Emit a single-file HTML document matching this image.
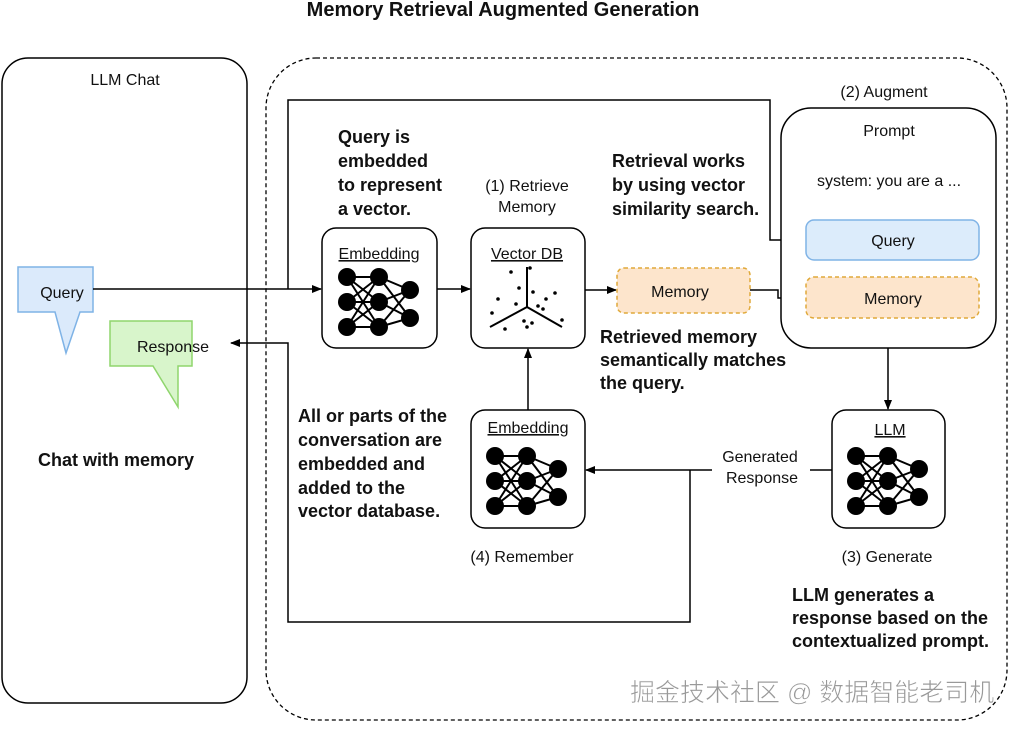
<!DOCTYPE html>
<html><head><meta charset="utf-8"><style>
html,body{margin:0;padding:0;background:#fff;}
svg{display:block;}
text{font-family:"Liberation Sans",sans-serif;fill:#111;}
.b{font-weight:bold;font-size:18px;}
.n{font-size:16px;}
</style></head><body>
<svg width="1012" height="729" viewBox="0 0 1012 729" xmlns="http://www.w3.org/2000/svg">
<defs>
<marker id="a" markerWidth="10" markerHeight="8" refX="9" refY="4" orient="auto" markerUnits="userSpaceOnUse"><path d="M0,0 L10,4 L0,8 Z" fill="#000"/></marker>
<g id="nn">
<g stroke="#000" stroke-width="2">
<line x1="0" y1="0" x2="32" y2="0"/><line x1="0" y1="0" x2="32" y2="25"/><line x1="0" y1="0" x2="32" y2="50"/>
<line x1="0" y1="25" x2="32" y2="0"/><line x1="0" y1="25" x2="32" y2="25"/><line x1="0" y1="25" x2="32" y2="50"/>
<line x1="0" y1="50" x2="32" y2="0"/><line x1="0" y1="50" x2="32" y2="25"/><line x1="0" y1="50" x2="32" y2="50"/>
<line x1="32" y1="0" x2="63" y2="13"/><line x1="32" y1="0" x2="63" y2="41"/>
<line x1="32" y1="25" x2="63" y2="13"/><line x1="32" y1="25" x2="63" y2="41"/>
<line x1="32" y1="50" x2="63" y2="13"/><line x1="32" y1="50" x2="63" y2="41"/>
</g>
<g fill="#000"><circle cx="0" cy="0" r="9"/><circle cx="0" cy="25" r="9"/><circle cx="0" cy="50" r="9"/>
<circle cx="32" cy="0" r="9"/><circle cx="32" cy="25" r="9"/><circle cx="32" cy="50" r="9"/>
<circle cx="63" cy="13" r="9"/><circle cx="63" cy="41" r="9"/></g>
</g>
</defs>

<text x="503" y="16" text-anchor="middle" class="b" style="font-size:20px">Memory Retrieval Augmented Generation</text>

<rect x="2" y="58" width="245" height="645" rx="26" fill="none" stroke="#000" stroke-width="1.5"/>
<text x="125" y="85" text-anchor="middle" class="n">LLM Chat</text>
<rect x="266" y="58" width="741" height="662" rx="50" fill="none" stroke="#000" stroke-width="1.3" stroke-dasharray="4,3"/>

<path d="M18,267 H93 V312 H80 L66,353 L55,312 H18 Z" fill="#dbeafb" stroke="#7fb3e6" stroke-width="1.5"/>
<text x="62" y="298" text-anchor="middle" class="n">Query</text>
<path d="M110,321 H192 V366 H178 L178,407 L153,366 H110 Z" fill="#d8f5cb" stroke="#8fd56d" stroke-width="1.5"/>
<text x="173" y="352" text-anchor="middle" class="n">Response</text>
<text x="38" y="466" class="b">Chat with memory</text>

<g fill="none" stroke="#000" stroke-width="1.5">
<path d="M93,289 H321" marker-end="url(#a)"/>
<path d="M288,289 V100 H770 V240 H805" marker-end="url(#a)"/>
<path d="M437,289 H470" marker-end="url(#a)"/>
<path d="M585,290 H616" marker-end="url(#a)"/>
<path d="M750,290 H778 V298 H805" marker-end="url(#a)"/>
<path d="M888,348 V409" marker-end="url(#a)"/>
<path d="M528,410 V349" marker-end="url(#a)"/>
<path d="M832,470 H586" marker-end="url(#a)"/>
<path d="M690,470 V622 H288 V343 H231" marker-end="url(#a)"/>
</g>
<rect x="712" y="446" width="98" height="44" fill="#fff"/>
<text x="760" y="462" text-anchor="middle" class="n">Generated</text>
<text x="762" y="483" text-anchor="middle" class="n">Response</text>

<rect x="322" y="228" width="115" height="120" rx="14" fill="#fff" stroke="#000" stroke-width="1.5"/>
<text x="379" y="259" text-anchor="middle" class="n" text-decoration="underline">Embedding</text>
<use href="#nn" x="347" y="277"/>

<rect x="471" y="228" width="114" height="120" rx="14" fill="#fff" stroke="#000" stroke-width="1.5"/>
<text x="527" y="259" text-anchor="middle" class="n" text-decoration="underline">Vector DB</text>
<g stroke="#000" stroke-width="2"><line x1="527" y1="307" x2="527" y2="267"/><line x1="527" y1="307" x2="490" y2="327"/><line x1="527" y1="307" x2="562" y2="327"/></g>
<g fill="#000">
<circle cx="511" cy="272" r="1.8"/><circle cx="530" cy="268" r="1.8"/><circle cx="519" cy="288" r="1.8"/><circle cx="533" cy="292" r="1.8"/><circle cx="555" cy="293" r="1.8"/><circle cx="546" cy="299" r="1.8"/><circle cx="498" cy="299" r="1.8"/><circle cx="516" cy="304" r="1.8"/><circle cx="538" cy="306" r="1.8"/><circle cx="543" cy="309" r="1.8"/><circle cx="492" cy="313" r="1.8"/><circle cx="562" cy="320" r="1.8"/><circle cx="524" cy="321" r="1.8"/><circle cx="532" cy="323" r="1.8"/><circle cx="527" cy="327" r="1.8"/><circle cx="505" cy="329" r="1.8"/>
</g>
<text x="527" y="191" text-anchor="middle" class="n">(1) Retrieve</text>
<text x="527" y="212" text-anchor="middle" class="n">Memory</text>

<rect x="617" y="268" width="133" height="45" rx="7" fill="#fde5cc" stroke="#e0a93a" stroke-width="1.5" stroke-dasharray="4,3"/>
<text x="680" y="297" text-anchor="middle" class="n">Memory</text>

<text x="884" y="97" text-anchor="middle" class="n">(2) Augment</text>
<rect x="781" y="108" width="215" height="240" rx="30" fill="#fff" stroke="#000" stroke-width="1.5"/>
<text x="889" y="136" text-anchor="middle" class="n">Prompt</text>
<text x="889" y="186" text-anchor="middle" class="n">system: you are a ...</text>
<rect x="806" y="220" width="173" height="40" rx="8" fill="#dcecfb" stroke="#7fb3e6" stroke-width="1.5"/>
<text x="893" y="246" text-anchor="middle" class="n">Query</text>
<rect x="806" y="277" width="173" height="41" rx="8" fill="#fde5cc" stroke="#e0a93a" stroke-width="1.5" stroke-dasharray="4,3"/>
<text x="893" y="304" text-anchor="middle" class="n">Memory</text>

<rect x="832" y="410" width="113" height="118" rx="14" fill="#fff" stroke="#000" stroke-width="1.5"/>
<text x="890" y="435" text-anchor="middle" class="n" text-decoration="underline">LLM</text>
<use href="#nn" x="856" y="456"/>
<text x="887" y="562" text-anchor="middle" class="n">(3) Generate</text>

<rect x="471" y="410" width="114" height="118" rx="14" fill="#fff" stroke="#000" stroke-width="1.5"/>
<text x="528" y="433" text-anchor="middle" class="n" text-decoration="underline">Embedding</text>
<use href="#nn" x="495" y="456"/>
<text x="522" y="562" text-anchor="middle" class="n">(4) Remember</text>

<g>
<text x="338" y="143" class="b">Query is</text>
<text x="338" y="167" class="b">embedded</text>
<text x="338" y="191" class="b">to represent</text>
<text x="338" y="215" class="b">a vector.</text>
<text x="612" y="167" class="b">Retrieval works</text>
<text x="612" y="191" class="b">by using vector</text>
<text x="612" y="215" class="b">similarity search.</text>
<text x="600" y="343" class="b">Retrieved memory</text>
<text x="600" y="366" class="b">semantically matches</text>
<text x="600" y="389" class="b">the query.</text>
<text x="298" y="422" class="b">All or parts of the</text>
<text x="298" y="446" class="b">conversation are</text>
<text x="298" y="470" class="b">embedded and</text>
<text x="298" y="494" class="b">added to the</text>
<text x="298" y="517" class="b">vector database.</text>
<text x="792" y="601" class="b">LLM generates a</text>
<text x="792" y="624" class="b">response based on the</text>
<text x="792" y="647" class="b">contextualized prompt.</text>
</g>

<text x="630" y="701" style="font-family:'Liberation Sans','Noto Sans CJK SC',sans-serif;font-size:25px;fill:#999;stroke:#fff;stroke-width:0.6">掘金技术社区 @ 数据智能老司机</text>
</svg>
</body></html>
